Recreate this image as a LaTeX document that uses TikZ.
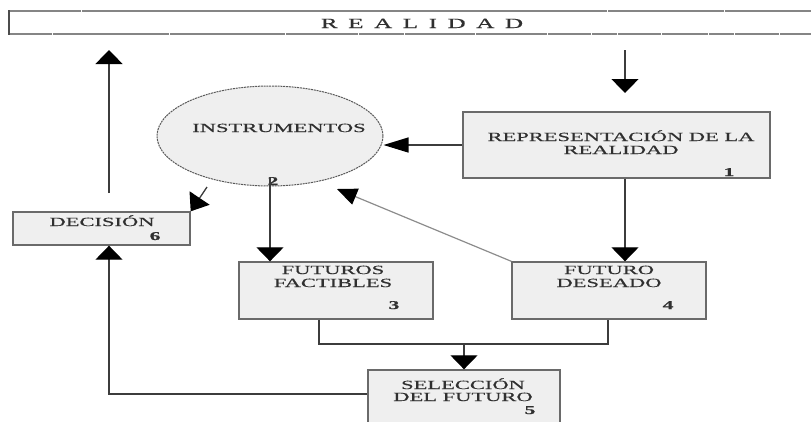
\documentclass[tikz,border=0pt]{standalone}
\usepackage{fontspec}
\setmainfont{Liberation Serif}
\newfontfamily\widefont[FakeStretch=1.8,FakeBold=0.5]{Liberation Serif}
\newfontfamily\widespaced[FakeStretch=1.8,FakeBold=0.5,LetterSpace=75]{Liberation Serif}
\usetikzlibrary{arrows.meta,shapes.geometric}
\definecolor{boxfill}{HTML}{EFEFEF}
\definecolor{boxline}{HTML}{6A6A6A}
\definecolor{txtcol}{HTML}{303030}
\definecolor{linecol}{HTML}{3C3C3C}
\definecolor{barcol}{HTML}{858585}
\tikzset{
  boxnode/.style={draw=boxline, line width=1.4pt, fill=boxfill, inner sep=0pt},
  ellnode/.style={ellipse, draw=black!65, line width=1pt, dash pattern=on 2pt off 0.8pt, fill=boxfill, inner sep=0pt},
  lbl/.style={anchor=base, inner sep=0pt, text=txtcol, font=\widefont\fontsize{12.5}{13}\selectfont},
  numlbl/.style={anchor=base, inner sep=0pt, text=txtcol, font=\widefont\fontsize{12}{13}\selectfont\bfseries},
  conn/.style={draw=linecol, line width=1.3pt},
  vtip/.style={-{Triangle[width=27pt,length=14pt,color=black]}},
  htip/.style={-{Triangle[width=15pt,length=25pt,color=black]}},
  dtip/.style={-{Triangle[width=24pt,length=16pt,color=black]}},
  gtip/.style={-{Triangle[width=17pt,length=20pt,color=black]}},
}
\begin{document}
\begin{tikzpicture}[x=1pt,y=-1pt]
\useasboundingbox (0,0) rectangle (811,421);
\clip (0,0) rectangle (811,421);
% reality bar
\draw[barcol, line width=2.2pt] (9,11) -- (811,11);
\draw[barcol, line width=2.2pt] (9,34) -- (811,34);
\draw[black!70, line width=1.6pt] (9,10) -- (9,35);
\foreach \gx in {81,607,724} {\draw[white, line width=1pt] (\gx,9.5) -- (\gx,12.5);}
\foreach \gx in {52,169,285,358,404,475,547,591,617,661,708,734,779} {\draw[white, line width=1pt] (\gx,32.5) -- (\gx,35.5);}
\node[anchor=base, inner sep=0pt, text=txtcol, font=\widespaced\fontsize{14}{15}\selectfont] (realtxt) at (422,28) {REALIDAD};

% nodes
\node[boxnode, minimum width=307pt, minimum height=66pt] (rep) at (616.5,145) {};
\node[ellnode, minimum width=226pt, minimum height=100pt] (inst) at (270,136) {};
\node[boxnode, minimum width=177pt, minimum height=33pt] (dec) at (101.5,228.5) {};
\node[boxnode, minimum width=194pt, minimum height=57pt] (fact) at (336,290.5) {};
\node[boxnode, minimum width=194pt, minimum height=57pt] (des) at (609,290.5) {};
\node[boxnode, minimum width=192pt, minimum height=60pt] (sel) at (464,400) {};

% texts
\node[lbl] (rep1) at (621,141) {REPRESENTACIÓN DE LA};
\node[lbl] (rep2) at (621,154) {REALIDAD};
\node[numlbl] (repn) at (729,176) {1};
\node[lbl] (inst1) at (279,132) {INSTRUMENTOS};
\node[numlbl] (instn) at (273,185) {2};
\node[lbl] (dec1) at (102,226) {DECISIÓN};
\node[numlbl] (decn) at (155,240) {6};
\node[lbl] (fact1) at (333,274) {FUTUROS};
\node[lbl] (fact2) at (333,287) {FACTIBLES};
\node[numlbl] (factn) at (394,309) {3};
\node[lbl] (des1) at (609,274) {FUTURO};
\node[lbl] (des2) at (609,287) {DESEADO};
\node[numlbl] (desn) at (668,309) {4};
\node[lbl] (sel1) at (463,389) {SELECCIÓN};
\node[lbl] (sel2) at (463,401) {DEL FUTURO};
\node[numlbl] (seln) at (530,414) {5};

% helper coordinates
\coordinate (upS) at (109,193);
\coordinate (upE) at (109,50);
\coordinate (dnS) at (625,50);
\coordinate (dnE) at (625,93);
\coordinate (colx) at (625,0);
\coordinate (lx) at (109,0);
\coordinate (fx) at (319,0);
\coordinate (dx) at (608,0);
\coordinate (jn) at (464,344);
\coordinate (sely) at (0,394);
\coordinate (instIn) at (337,189);
\coordinate (instOut) at (207,187);

% connectors
\draw[conn, vtip] (upS) -- (upE);
\draw[conn, vtip] (dnS) -- (dnE);
\draw[conn, htip] (rep.west) -- (inst.east |- rep.west);
\draw[conn, dtip] (instOut) -- (dec.north east);
\draw[conn, vtip] ([yshift=9pt]inst.south) -- (inst.south |- fact.north);
\draw[conn, vtip] (rep.south -| colx) -- (des.north -| colx);
\draw[draw=black!45, line width=1.2pt, gtip] (des.north west) -- (instIn);
\draw[conn] (fact.south -| fx) -- (fx |- jn) -- (dx |- jn) -- (des.south -| dx);
\draw[conn, vtip] (jn) -- (sel.north);
\draw[conn, vtip] (sel.west |- sely) -| (dec.south -| lx);
\end{tikzpicture}
\end{document}
